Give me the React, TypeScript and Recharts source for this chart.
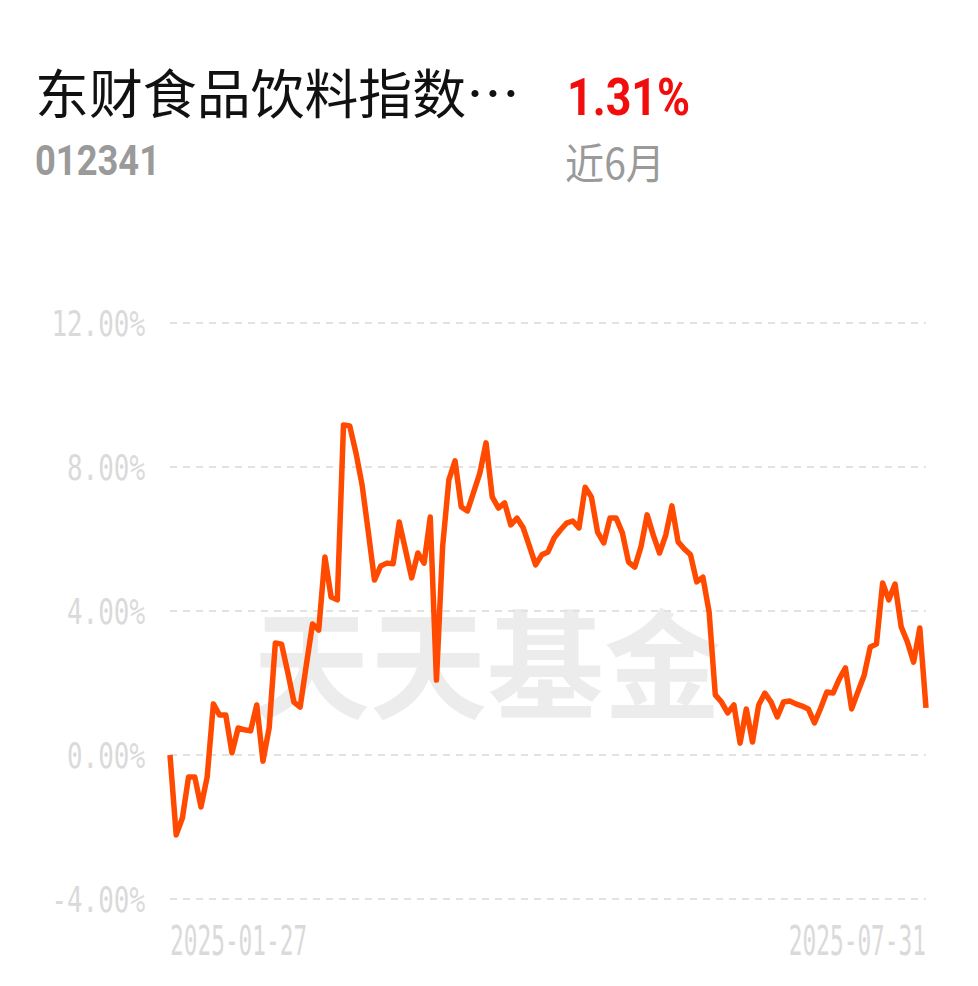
import { LineChart, Line, XAxis, YAxis, CartesianGrid } from "recharts";

// cumulative return (%) per trading day, 2025-01-27 .. 2025-07-31
const returns = [
  0.0, -2.22, -1.75, -0.61, -0.61, -1.44, -0.61, 1.42, 1.11, 1.11,
  0.06, 0.75, 0.7, 0.67, 1.39, -0.17, 0.75, 3.11, 3.08, 2.3,
  1.47, 1.33, 2.5, 3.64, 3.47, 5.5, 4.39, 4.31, 9.17, 9.14,
  8.4, 7.5, 6.2, 4.86, 5.25, 5.33, 5.31, 6.47, 5.7, 4.92,
  5.61, 5.33, 6.61, 2.08, 5.8, 7.64, 8.17, 6.89, 6.78, 7.3,
  7.83, 8.67, 7.17, 6.86, 7.0, 6.39, 6.58, 6.31, 5.8, 5.28,
  5.56, 5.64, 6.03, 6.25, 6.44, 6.5, 6.31, 7.44, 7.17, 6.19,
  5.89, 6.58, 6.58, 6.17, 5.36, 5.22, 5.78, 6.67, 6.1, 5.61,
  6.11, 6.92, 5.92, 5.72, 5.56, 4.81, 4.94, 3.97, 1.67, 1.47,
  1.17, 1.39, 0.33, 1.28, 0.36, 1.39, 1.72, 1.47, 1.06, 1.47,
  1.5, 1.42, 1.36, 1.28, 0.89, 1.3, 1.75, 1.72, 2.11, 2.42,
  1.28, 1.75, 2.2, 3.0, 3.08, 4.78, 4.31, 4.75, 3.56, 3.14,
  2.58, 3.53, 1.31,
];
const dateLabels = ["2025-01-27", "2025-07-31"];
const yTicks = [-4, 0, 4, 8, 12];

const fundName = "东财食品饮料指数…";
const fundCode = "012341";
const periodReturn = "1.31%";
const periodLabel = "近6月";

const data = returns.map((v, i) => ({ day: i, value: v }));
const lastDay = returns.length - 1;

const YTick = (props: any) => {
  const { x, y, payload } = props;
  return (
    <g transform={`translate(${x - 17},${y + 13}) scale(0.72,1)`}>
      <text x={0} y={0} textAnchor="end" fontFamily="DejaVu Sans Mono" fontSize={36} fill="#dadada">
        {payload.value.toFixed(2) + "%"}
      </text>
    </g>
  );
};

const XTick = (props: any) => {
  const { x, y, payload } = props;
  const first = payload.value === 0;
  const label = first ? dateLabels[0] : dateLabels[1];
  return (
    <g transform={`translate(${x},${y + 48}) scale(0.57,1)`}>
      <text x={0} y={0} textAnchor={first ? "start" : "end"} fontFamily="DejaVu Sans Mono" fontSize={40} fill="#dadada">
        {label}
      </text>
    </g>
  );
};

export default function App() {
  return (
    <div style={{ position: "absolute", left: 0, top: 0, width: 978, height: 986, background: "#fff", overflow: "hidden" }}>
      {/* watermark */}
      <svg width={978} height={986} style={{ position: "absolute", left: 0, top: 0 }}>
        <text x={253} y={710} fontFamily="Noto Sans CJK SC" fontWeight={700} fontSize={118} fill="#ececec"
          textLength={468} lengthAdjust="spacingAndGlyphs">
          天天基金
        </text>
      </svg>

      <div style={{ position: "absolute", left: 0, top: 0 }}>
        <LineChart width={978} height={986} data={data} margin={{ top: 323, right: 52, bottom: 0, left: 0 }}>
          <CartesianGrid vertical={false} stroke="#e2e2e2" strokeWidth={2} strokeDasharray="7 6" />
          <XAxis
            dataKey="day"
            type="number"
            domain={[0, lastDay]}
            ticks={[0, lastDay]}
            height={87}
            axisLine={false}
            tickLine={false}
            tick={<XTick />}
          />
          <YAxis
            domain={[-4, 12]}
            ticks={yTicks}
            width={170}
            axisLine={false}
            tickLine={false}
            tick={<YTick />}
          />
          <Line
            type="linear"
            dataKey="value"
            stroke="#ff4a00"
            strokeWidth={5.5}
            strokeLinejoin="round"
            dot={false}
            isAnimationActive={false}
          />
        </LineChart>
      </div>

      {/* header */}
      <svg width={978} height={220} style={{ position: "absolute", left: 0, top: 0 }}>
        <text x={35} y={114} fontFamily="Noto Sans CJK SC" fontSize={53} fill="#111"
          textLength={485} lengthAdjust="spacingAndGlyphs">
          {fundName}
        </text>
        <text x={567} y={115} fontFamily="Roboto" fontWeight={700} fontSize={52} fill="#f20d0d"
          textLength={123} lengthAdjust="spacingAndGlyphs">
          {periodReturn}
        </text>
        <text x={35} y={175} fontFamily="Roboto" fontWeight={700} fontSize={42} fill="#9a9a9a"
          textLength={125} lengthAdjust="spacingAndGlyphs">
          {fundCode}
        </text>
        <text x={565} y={179} fontFamily="Noto Sans CJK SC" fontSize={42} fill="#9a9a9a"
          textLength={100} lengthAdjust="spacingAndGlyphs">
          {periodLabel}
        </text>
      </svg>
    </div>
  );
}
